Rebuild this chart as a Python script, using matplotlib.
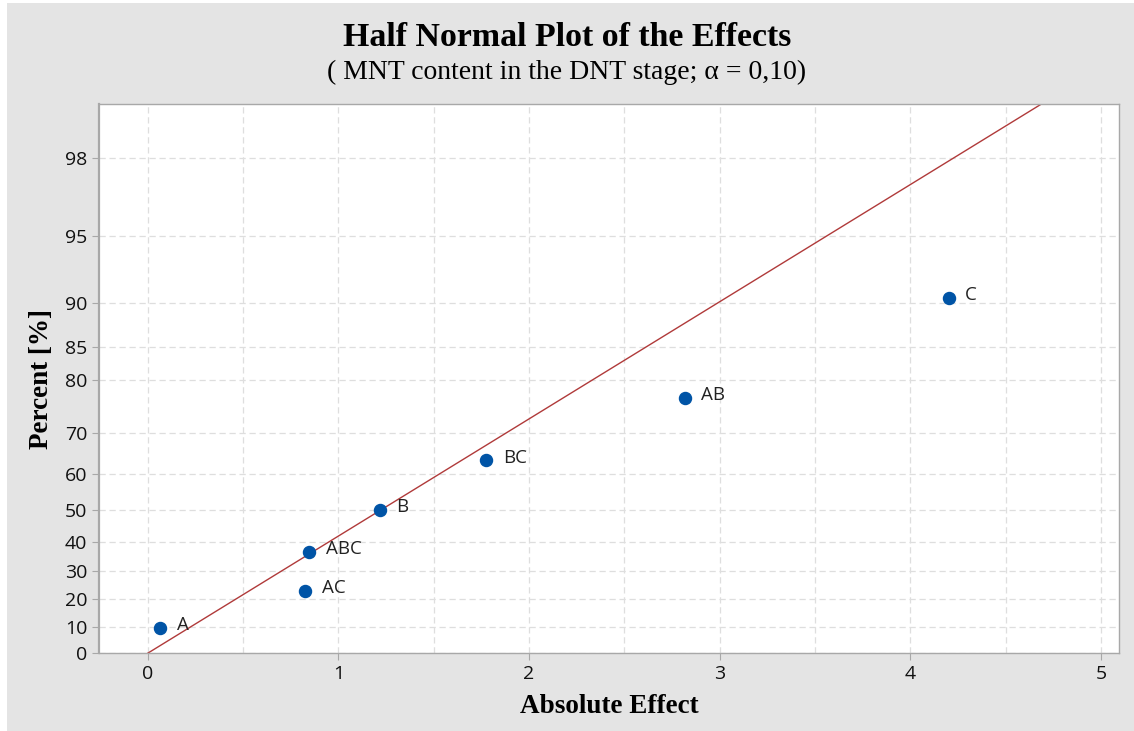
import math
import matplotlib
matplotlib.use("Agg")
import matplotlib.pyplot as plt
from matplotlib.patches import Rectangle
from matplotlib.ticker import FixedLocator

# effects (absolute) and half-normal plotting percent
labels = ["A", "AC", "ABC", "B", "BC", "AB", "C"]
abs_effect = [0.066, 0.826, 0.846, 1.218, 1.777, 2.817, 4.201]
percent = [9.5, 23.0, 36.5, 50.0, 63.5, 77.0, 90.5]

# reference line through origin (slope in z units per unit effect)
line_slope = 0.5501

y_ticks = [0, 10, 20, 30, 40, 50, 60, 70, 80, 85, 90, 95, 98]


def inv_norm(p):
    # inverse standard normal cdf by bisection
    lo, hi = -10.0, 10.0
    for _ in range(100):
        mid = (lo + hi) / 2
        if 0.5 * (1 + math.erf(mid / math.sqrt(2))) < p:
            lo = mid
        else:
            hi = mid
    return (lo + hi) / 2


def half_z(pct):
    return inv_norm(0.5 + pct / 200.0)


fig = plt.figure(figsize=(11.34, 7.31), dpi=100)
fig.patch.set_facecolor("white")
fig.patches.append(Rectangle((7 / 1134, 0), 1, 1 - 3 / 731, transform=fig.transFigure,
                             facecolor="#e4e4e4", edgecolor="none", zorder=-10))

ax = fig.add_axes([99 / 1134, 1 - 653.3 / 731, (1119 - 99) / 1134, (653.3 - 104) / 731])
ax.set_facecolor("white")

z = [half_z(p) for p in percent]
ax.scatter(abs_effect, z, s=75, color="#0054a6", zorder=3)
for xv, zv, lab in zip(abs_effect, z, labels):
    ax.annotate(lab, (xv, zv), xytext=(12, 2), textcoords="offset points",
                fontsize=13.5, family="Open Sans", color="#222222", va="center")

x0, x1 = -0.255, 5.095
ytop = 2.579
xs = [0.0, ytop / line_slope]
ax.plot(xs, [line_slope * v for v in xs], color="#b03a3a", lw=1.0, zorder=2)

ax.set_xlim(x0, x1)
ax.set_ylim(0, ytop)
ax.xaxis.set_major_locator(FixedLocator([0, 1, 2, 3, 4, 5]))
ax.xaxis.set_minor_locator(FixedLocator([0.5, 1.5, 2.5, 3.5, 4.5]))
ax.set_yticks([half_z(v) for v in y_ticks])
ax.set_yticklabels([str(v) for v in y_ticks])

ax.grid(True, which="both", axis="x", color="#dedede", linestyle=(0, (5, 3)), lw=0.9)
ax.grid(True, which="major", axis="y", color="#dedede", linestyle=(0, (5, 3)), lw=0.9)
ax.set_axisbelow(True)
ax.tick_params(which="major", length=5, color="#a8a8a8", labelsize=14, labelcolor="#111111")
ax.tick_params(which="minor", length=0)
for lab in ax.get_xticklabels() + ax.get_yticklabels():
    lab.set_family("Open Sans")
for s in ax.spines.values():
    s.set_color("#a8a8a8")
    s.set_linewidth(1.0)
ax.spines["left"].set_linewidth(1.6)

ax.set_xlabel("Absolute Effect", family="Liberation Serif", fontweight="bold", fontsize=19.5, labelpad=8)
ax.set_ylabel("Percent [%]", family="Liberation Serif", fontweight="bold", fontsize=19.5, labelpad=8)

fig.text(0.5, 1 - 37 / 731, "Half Normal Plot of the Effects", ha="center", va="center",
         family="Liberation Serif", fontweight="bold", fontsize=24.4)
fig.text(0.5, 1 - 72 / 731, "( MNT content in the DNT stage; α = 0,10)", ha="center", va="center",
         family="Liberation Serif", fontsize=20)

fig.savefig("out.png", dpi=100)
